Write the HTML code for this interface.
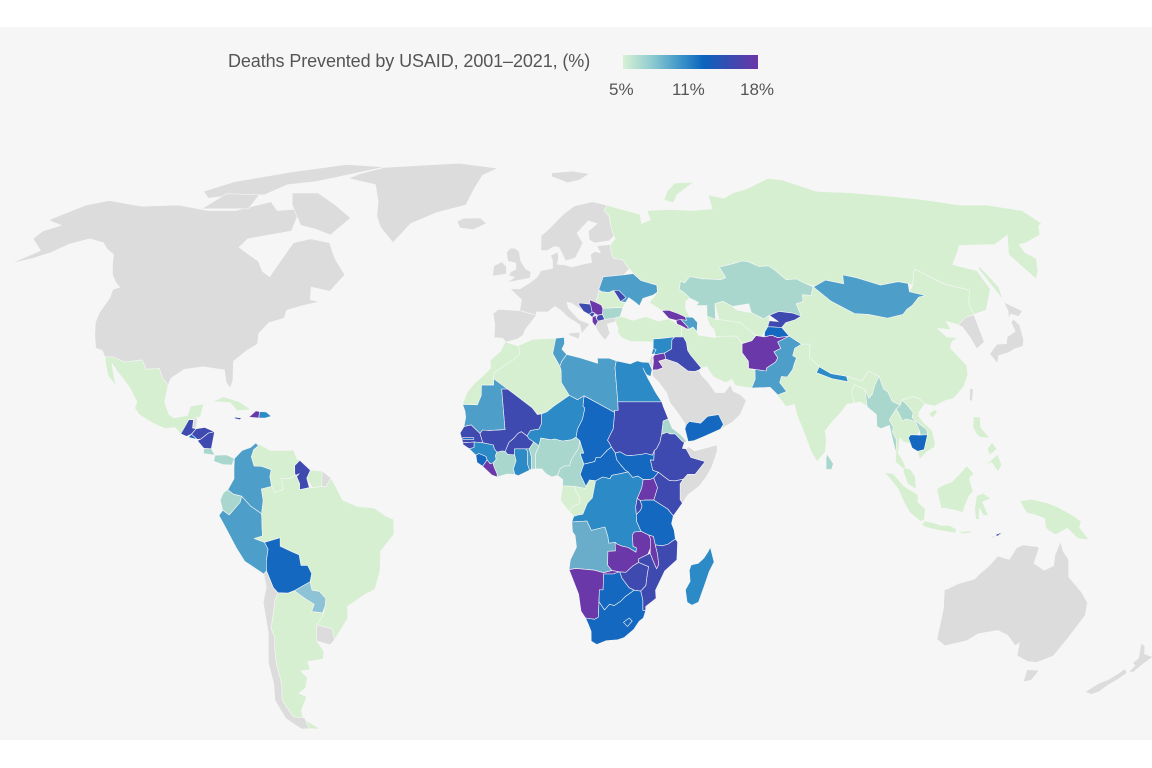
<!DOCTYPE html>
<html><head><meta charset="utf-8"><style>
html,body{margin:0;padding:0;background:#fff;}
#wrap{position:relative;width:1152px;height:768px;overflow:hidden;background:#fff;}
#bg{position:absolute;left:0;top:27px;width:1152px;height:713px;background:#f6f6f6;}
#title{position:absolute;left:228px;top:51px;font:18px "Liberation Sans",sans-serif;color:#555;letter-spacing:-0.1px;}
#bar{position:absolute;left:623px;top:55px;width:135px;height:14px;background:linear-gradient(to right,#d8f1d4 0%,#8ccad0 22%,#3f96c8 42%,#0b63bd 60%,#3b4ab0 80%,#6b36a8 100%);}
.lb{position:absolute;top:80px;font:17px "Liberation Sans",sans-serif;color:#555;}
svg{position:absolute;left:0;top:0;}
</style></head><body><div id="wrap"><div id="bg"></div>
<div id="title">Deaths Prevented by USAID, 2001–2021, (%)</div>
<div id="bar"></div>
<div class="lb" style="left:609px">5%</div><div class="lb" style="left:672px">11%</div><div class="lb" style="left:740px">18%</div>
<svg id="map" width="1152" height="768" viewBox="0 0 1152 768"></svg>
</div>
<script>
var YT=[0,.062,.124,.186,.248,.31,.372,.434,.4958,.5571,.6176,.6769,.7346,.7903,.8435,.8936,.9394,.9761,1];
var XT=[1,.9986,.9954,.99,.9822,.973,.96,.9427,.9216,.8962,.8679,.835,.7986,.7597,.7186,.6732,.6213,.5722,.5322];
function it(t,a){a=Math.min(Math.abs(a),89.999);var i=Math.floor(a/5),f=a/5-i;return t[i]+(t[i+1]-t[i])*f;}
function P(lo,la){var X=it(XT,la),Y=it(YT,la);return [(525.5+lo*3.775*X).toFixed(1),(495.8-(la<0?-1:1)*344.6*Y).toFixed(1)];}
var G='#dcdcdc',L='#d6efd0',T='#a9d7cd',T2='#8ec3d6',M2='#6aadcb',M='#4d9fc9',B2='#2c8ac6',B='#1568c0',I='#3f4ab1',P2='#6a38a8';
var D=[
[G,[-168,66,-162,70,-156,71.3,-141,69.7,-128,70,-115,68.5,-105,68.5,-95,71,-90,68.5,-82,69,-80,63,-93,61,-94,58.8,-85,55.3,-82,52.8,-79,51.5,-78,55,-77,60,-72,61,-65,60,-61,56,-56,52,-59,48,-65,49,-64,46,-61,45.5,-66,44.5,-70,43.5,-70,41.6,-74,40.5,-76,38,-75.5,35.5,-78,34,-81,31.5,-80.1,27,-80.4,25.2,-81.8,26.5,-83,29.5,-85,29.7,-89,30.2,-94,29.6,-97.2,27.5,-97.5,25.9,-99.5,27.5,-101,29.8,-104.5,29.6,-106.5,31.8,-111,31.3,-114.8,32.5,-117.1,32.5,-118.5,34,-120.6,34.6,-122.4,37.5,-124,40.5,-124.5,43,-124,46.5,-124.7,48.4,-123,49,-125,50,-128,52,-130.5,54.5,-133,57,-137,58.5,-140,60,-146,61,-151,59.5,-154,57.5,-158,56,-163,54.8,-158,58,-162,59.8,-165,61,-165,63,-161,64.5,-166,65.5]],
[G,[-80,73.5,-70,70,-62,66.5,-66,62,-72,63.5,-78,64.5,-86,70,-90,73.5]],
[G,[-120,72,-110,73,-100,73,-95,76,-85,77,-75,79,-62,82,-80,83,-100,80,-118,77,-125,74]],
[G,[-118,69,-101,69,-102,73,-115,73.3]],
[G,[-73,78,-60,76,-55,71,-53,67,-50,64,-44,60,-40,65,-32,68,-22,70,-20,75,-18,79,-12,81.5,-30,83.5,-50,82.5,-62,81.8,-70,79.5]],
[G,[-24,65.5,-22,66.4,-16,66.5,-13.6,65,-18,63.4,-22.5,63.8]],
[G,[11,78.5,17,76.6,22,77.5,27,79.5,20,80.4,11,79.7]],
[L,[-117.1,32.5,-114.8,32.5,-111,31.3,-106.5,31.8,-104.5,29.6,-101,29.8,-99.5,27.5,-97.5,25.9,-97.7,22,-96,19,-94.5,18.2,-91,18.8,-90.5,21,-87,21.5,-87.5,18.5,-89,17.8,-90.5,17.8,-91.4,16,-92.2,14.5,-94,16,-96.5,15.7,-100,17,-104,19,-105.5,20.5,-105.2,22,-108,25.5,-112.2,29,-114.5,31,-113,28,-111.5,25.5,-109.5,23,-110.3,24.2,-112,26,-114.5,28,-116,30.5]],
[I,[-92.2,14.5,-91.4,16,-90.5,17.8,-89.2,17.8,-89.2,15.9,-88.2,15.7,-89.4,14.4,-90.6,13.9]],
[G,[-89.2,17.8,-88.3,18.5,-88.2,16,-89.2,15.9]],
[I,[-88.2,15.7,-86,16,-83.2,15,-84.8,14.7,-86.7,13.3,-87.7,13.2,-89.3,14.4]],
[B,[-89.3,14.4,-87.7,13.2,-90.1,13.7]],
[I,[-83.2,15,-83.7,11,-85.7,11.1,-87.6,12.9,-86.7,13.3,-84.8,14.7]],
[T,[-85.7,11.1,-83.7,11,-82.6,9.5,-85.7,9.9]],
[T,[-82.6,9.5,-79.5,9.6,-77.4,8.7,-78,7.2,-80.4,7.3,-82.9,8.1]],
[L,[-85,21.9,-82,23.2,-77.5,22,-74.1,20.2,-77.7,19.9,-80,21.8,-83,22]],
[P2,[-74.4,18.4,-72.7,19.9,-71.7,19.7,-71.7,18.2]],
[B2,[-71.7,19.7,-69.9,19.6,-68.4,18.6,-70,18.2,-71.7,18.2]],
[I,[-78.3,18.4,-76.3,18.2,-76.8,17.8,-78.2,18.1]],
[M,[-77.4,8.7,-75.5,10.6,-73.3,11.3,-71.9,12.4,-71.2,11.7,-72.4,10.8,-72.9,9.1,-72.1,7,-70,6.9,-67.5,6.1,-67.8,4.5,-67.3,2.2,-70,1.6,-69.5,-1.1,-70,-4.2,-72.9,-2.4,-75.2,-0.1,-77.4,0.4,-78.9,1.4,-77.3,4,-77.4,6.7]],
[L,[-71.9,12.4,-69.7,11.5,-68,10.6,-64,10.6,-61.8,10.7,-60.7,8.6,-60,8.3,-61.3,7.1,-61.2,5.2,-60.7,4.5,-62.8,4,-64.7,4.1,-64.2,1.5,-66.3,0.7,-67.3,2.2,-67.8,4.5,-67.5,6.1,-70,6.9,-72.1,7,-72.9,9.1,-72.4,10.8,-71.2,11.7]],
[I,[-60,8.3,-57.1,6,-58,4.1,-57.3,1.9,-59.9,1.4,-59.9,2.8,-60.7,4.5,-61.2,5.2,-61.3,7.1]],
[L,[-57.1,6,-54,5.8,-54,2.2,-56.5,1.9,-58,4.1]],
[G,[-54,5.8,-51.6,4.2,-52.9,2.1,-54,2.2]],
[T,[-78.9,1.4,-77.4,0.4,-75.2,-0.1,-75.6,-1.5,-78.6,-4.5,-80.3,-3.4,-80.9,-1,-80,0.8]],
[M,[-80.3,-3.4,-78.6,-4.5,-75.6,-1.5,-75.2,-0.1,-72.9,-2.4,-70,-4.2,-70,-9.4,-72.2,-10,-69.5,-10.9,-68.7,-12.5,-69.4,-15.3,-69.6,-17.6,-70.4,-18.3,-75.2,-15.3,-77.2,-12.1,-79.8,-7.2,-81.3,-4.6]],
[L,[-60,5.2,-60.7,4.5,-59.9,2.8,-59.9,1.4,-57.3,1.9,-56.5,1.9,-54,2.2,-52.9,2.1,-51.6,4.2,-50,1.7,-48.5,-1,-44.5,-2.5,-40,-2.9,-37,-4.8,-35,-5.5,-35,-9,-38.7,-13,-39.1,-17.7,-40.8,-21.9,-43.4,-23,-48.6,-25.9,-48.8,-28.6,-53.4,-33.7,-53.6,-31.2,-57.6,-30.2,-55.6,-28,-54.6,-25.6,-54.3,-24,-55.8,-22.4,-57.8,-22.1,-58.1,-20.1,-57.5,-18.2,-58.4,-16.3,-60.2,-16.3,-60.5,-13.8,-62.1,-13.2,-65.4,-11.8,-65.3,-9.8,-69.5,-10.9,-72.2,-10,-70,-9.4,-70,-4.2,-69.5,-1.1,-70,1.6,-67.3,2.2,-66.3,0.7,-64.2,1.5,-64.7,4.1,-62.8,4]],
[B,[-69.5,-10.9,-65.3,-9.8,-65.4,-11.8,-62.1,-13.2,-60.5,-13.8,-60.2,-16.3,-58.4,-16.3,-57.5,-18.2,-58.1,-20.1,-62.6,-22.2,-64.4,-22.8,-67.1,-22.7,-68.2,-21.5,-69.6,-17.6,-69.4,-15.3,-68.7,-12.5]],
[T2,[-58.1,-20.1,-57.8,-22.1,-55.8,-22.4,-54.3,-24,-54.6,-25.6,-55.6,-27.4,-58.6,-27.1,-57.6,-25.4,-60,-24,-62.6,-22.2]],
[G,[-57.6,-30.2,-53.6,-31.2,-53.4,-33.7,-54.9,-34.9,-58.4,-34,-58.1,-32]],
[L,[-67.1,-22.7,-64.4,-22.8,-62.6,-22.2,-60,-24,-57.6,-25.4,-58.6,-27.1,-55.6,-27.4,-55.6,-28,-57.6,-30.2,-58.1,-32,-58.4,-34,-57,-36.5,-57.7,-38.2,-62.3,-38.8,-62.1,-40.7,-65,-41,-63.6,-42.6,-65,-45,-67.5,-46.3,-65.6,-47.2,-68.6,-50.4,-69,-52,-68.3,-53,-65.1,-55,-68.6,-54.9,-68.6,-52.3,-71.9,-52,-72.4,-50.5,-73.3,-48,-71.7,-44,-71.4,-39.4,-70.8,-36,-70,-33,-70.5,-31,-69.1,-27.5,-68.2,-24.5]],
[G,[-70.4,-18.3,-69.6,-17.6,-68.2,-21.5,-67.1,-22.7,-68.2,-24.5,-69.1,-27.5,-70.5,-31,-70,-33,-70.8,-36,-71.4,-39.4,-71.7,-44,-73.3,-48,-72.4,-50.5,-71.9,-52,-68.6,-52.3,-68.6,-54.9,-71,-55,-74.5,-52.5,-75.5,-48,-74,-44,-73.6,-39,-71.5,-32,-71.4,-25,-70.1,-21.4]],
[G,[-9,43,-8,43.7,-1.7,43.4,3.2,42.3,0,39,-0.7,37.6,-2.2,36.7,-5.6,36,-6.5,36.9,-8.9,37,-8.8,40,-9.5,42.8]],
[G,[-1.7,43.4,-1.2,46,-4.6,48.6,-1.6,48.6,1.4,50.1,3.5,51.4,4.8,53,8.5,53.6,8.6,55.5,8.1,56.8,10.5,57.7,10.6,56,10,54.6,12.5,54.4,14.5,53.9,18.6,54.7,21,55,21,57,22.5,57.8,24.3,57.4,23.5,59.2,28,59.5,27.8,57.5,28.2,56.1,31,55.7,32.5,53.5,30.5,52,24,51.5,23.5,50.5,22.1,48.4,22.9,47.9,24.9,47.7,26.6,48.2,28.2,45.5,29.6,45.3,28.6,44,27.5,42,26.3,41.7,26.1,40.8,23.5,40.2,24,38,22.5,36.4,21.1,37.9,19.5,40.5,19.4,41.8,16.5,43.5,13.7,45.1,12.3,45.4,12.6,44,15.6,41.2,18.5,40.2,16,38,15.6,40,12.2,41.9,10.3,43.5,8.7,44.4,6.5,43.1,3.2,43.1,3.2,42.3]],
[G,[5,58,5.3,61.8,8,63.5,13.5,67.5,18,69.8,25,71,30,70,28.5,68.5,29.8,67,29.5,63.5,31.5,62.9,28,60.5,23,59.9,21.3,60.7,21.5,63,25,65,22,65.7,17.5,62.5,19,60,17.5,58,16,56.2,12.8,55.4,11,58.8,9.5,59,7,58]],
[G,[-5.7,50.1,1.4,51.2,1.7,52.7,0,53.5,-1.6,55.5,-2,57.7,-3.5,58.6,-5,58.6,-6.2,57.5,-5.6,55.3,-3.1,54.9,-3,53.4,-4.6,52.7,-5.2,51.8,-3.4,51.4]],
[G,[-6,52.2,-6,54,-7.5,55.2,-10,54.2,-10.2,51.7]],
[G,[12.4,38.1,15.6,38.3,15.1,36.7,12.4,37.6]],
[M,[22.1,48.4,24,51.5,30.5,52,33.5,52.3,35.4,50.6,38.2,49.9,40,49.5,39.7,47.8,38.2,47.1,35,46.3,33.6,44.5,32.5,45.4,30.8,46.5,29.6,45.3,28.2,45.5,26.6,48.2,24.9,47.7,22.9,47.9]],
[L,[22.9,47.9,24.9,47.7,26.6,48.2,28.2,45.5,29.6,45.3,28.6,44,27,44.1,22.7,43.9,22.4,44.7,21,45.3,21.2,46.2,22.1,48]],
[I,[26.6,48.2,28.2,48.2,30,46.5,28.2,45.5]],
[T,[22.7,43.9,27,44.1,28.6,44,27.5,42,26.3,41.7,22.9,41.3,22.4,42.5]],
[P2,[19,46,21,45.3,22.4,44.7,22.7,43.9,22.4,42.5,21,42.3,19.5,43,19.2,44.5]],
[I,[15.8,45.2,19.2,44.9,19.5,43,18.5,42.5,17,43.2,15.8,44.7]],
[I,[21,42.3,22.4,42.5,22.9,41.3,21,40.9,20.5,41.5]],
[P2,[19.4,41.8,20.5,42.3,20.5,41.5,21,40.9,20,39.7,19.3,40.7]],
[I,[18.5,42.5,19.5,43,20.3,42.8,19.4,41.8]],
[L,[28,59.5,30,61,29.5,63.5,29.8,67,28.5,68.5,30,70,33,69.3,41,67.5,40.5,65,44,66,44,68.5,53,68.8,60,68.5,68,69,70,73,72,72.5,75,72,80,73.5,87,74.8,100,78,105,77.5,113,74,126,73.5,140,72.5,150,71.5,160,70,170,70,180,68.5,180,65,178,64.5,174,62,166,60,163,59.5,162,57.5,163.5,56,160,53,157,51,156,57,163,62,155,59.5,143,59.3,140,57.5,135,54.5,141,53,140.5,48.5,135,43.5,131,42.6,130.6,42.4,131,45,134,48.3,127.5,49.8,122,53.4,120.7,52.5,117.8,49.5,116.7,49.9,114,50.3,108,49.5,102,51.3,98.3,52,97,49.8,92,50.7,87.8,49.2,85,50,83.3,51,80,50.8,77.8,53.3,76.5,54.2,73.5,54,70.8,55.2,69,55.4,65,54.6,61,53.9,61.7,51.3,59.9,50.8,56,51,54.5,51,50.8,51.6,48.6,50,47.5,50.5,46.5,48.5,47.7,47.7,49,46.4,47.5,45.6,47,43.9,47.7,41.8,46.4,41.9,44.5,42.7,42,43.5,39.9,43.4,38.2,44.4,36.7,45.3,39.7,47.8,40,49.5,38.2,49.9,35.4,50.6,33.5,52.3,32.5,53.5,31,55.7,28.2,56.1,27.8,57.5]],
[L,[52,71.5,55,70.7,58,73,68,76.8,60,76.5,55,74]],
[L,[142,46,143.5,49,143,54,142,53.5]],
[P2,[39.9,43.4,41.6,41.5,43.5,41.1,46.6,41.1,46.4,41.9,44.5,42.7,42,43.5]],
[P2,[43.5,41.1,45,41.3,46.6,39.5,46.5,38.9,44.8,39.7,43.6,40.2]],
[M,[45,41.3,46.6,41.1,46.4,41.9,48.6,41.8,49.6,40.6,48.9,38.4,48,39.5,46.5,38.9,46.6,39.5]],
[L,[26,40.6,26.3,41.7,28,42,31,41.1,35,42,38.3,40.9,41.6,41.5,43.6,40.2,44.8,39.7,44.3,37,42.3,37.2,38,36.8,36.2,36.7,36,36,32.5,36.1,29.7,36.1,27.3,37,26.3,38.2,26.5,39.4]],
[T,[46.5,48.5,47.5,50.5,48.6,50,50.8,51.6,54.5,51,56,51,59.9,50.8,61.7,51.3,61,53.9,65,54.6,69,55.4,70.8,55.2,73.5,54,76.5,54.2,77.8,53.3,80,50.8,83.3,51,85,50,87.3,49.1,85.5,47,83,47.2,82.3,45.5,80,45,80.2,42.1,78,42.8,74.2,43.2,71,42.3,69,41.4,66,42.9,66,45,61,44.4,58.5,45.6,56,45,55,41.3,53,42,52.7,41.8,53.5,44.6,50.3,44.6,51.3,45.3,49,46.4,47.7,47.7]],
[L,[56,45,58.5,45.6,61,44.4,62,43.5,66,42.9,69,41.4,71,42.3,70.5,41,73,40.8,71,40.2,68.2,38.3,67,37.3,65.5,37.5,62,40.5,56,41.3]],
[L,[52.7,41.8,53,42,55,41.3,56,41.3,62,40.5,65.5,37.5,64,36.3,61,35.6,60,37.4,54,37.3,53.9,38.9,52.9,40]],
[I,[71,42.3,74.2,43.2,78,42.8,80.2,42.1,78,41.2,75,40.5,73.5,39.4,69.5,39.6,70.5,41,73,40.8]],
[B,[67.8,37.2,68.2,38.3,69.5,39.6,73.5,39.4,74.9,37.4,71.5,37,70,37.6]],
[P2,[61,35.6,64,36.3,65.5,37.5,67,37.3,67.8,37.2,70,37.6,71.5,37,74.9,37.4,71.2,36,71.6,34.5,69.5,33.7,70.2,32.3,69.3,31.3,66.5,29.9,66.3,29.2,61.5,29.8,61.8,31.5,60.5,33.5]],
[M,[74.9,37.4,77.8,35.5,75.5,34.5,74.5,32.8,75.4,32.3,74.5,31,73.6,29.5,71.8,27.8,70.2,27.9,69.5,26.5,71,24.4,68.5,23.6,66.7,25.4,61.6,25.2,62.9,27.3,63.2,29.4,61.5,29.8,66.3,29.2,66.5,29.9,69.3,31.3,70.2,32.3,69.5,33.7,71.6,34.5,71.2,36]],
[L,[44.3,37,44.8,39.7,46.5,38.9,48,39.5,48.9,38.4,49.2,37.6,53.9,37,54,37.3,60,37.4,61,35.6,60.5,33.5,61.8,31.5,61.5,29.8,63.2,29.4,62.9,27.3,61.6,25.2,57.3,25.8,56.5,27.2,54.7,26.5,51.5,27.9,50,30.2,48.5,29.9,47.6,31,46,33,45.4,34,45.4,35.9,44.8,37.2]],
[I,[44.8,37.2,45.4,35.9,45.4,34,46,33,47.6,31,48.5,29.9,47.7,29.4,46.6,29.1,44.7,29.2,42,31.1,39,32,38.8,33.4,41,34.4,41.4,36.5,42.3,37.2]],
[B2,[36.2,36.7,38,36.8,42.3,37.2,41.4,36.5,41,34.4,38.8,33.4,36,33,35.8,34.5]],
[P2,[35.5,32.5,36,33,38.8,33.4,39,32,37,31.5,38,30,36.5,29.5,35,29.4,35.5,31.5]],
[B2,[35.1,33,35.8,34.5,36.6,34.2,35.9,33.3]],
[G,[34.3,31.3,35.1,33,35.5,32.5,35,29.4]],
[G,[35,29.4,36.5,29.5,38,30,37,31.5,39,32,42,31.1,44.7,29.2,46.6,29.1,47.7,29.4,48.5,28,50,26.5,51.6,24.2,54,24.1,56,26,56.4,24.5,58.5,23.6,59.8,22.3,57.8,19,55.5,17.2,52.2,15.6,48,14,45,12.9,43.4,12.7,42.7,15.7,42.8,16.9,41,19.5,39,21.9,38.4,24,36.5,26.5,34.8,28.1]],
[B,[43.4,12.7,45,12.9,48,14,52.2,15.6,53.1,16.7,52,19,49,18.6,47,17,44,17.4,43.2,16.7,42.7,15.7]],
[L,[77.8,35.5,80.2,35.5,79,32.5,81.1,30.2,80,28.8,84,27.4,88.2,26.7,88.1,28,92,26.9,94.5,29.2,97,28,95.4,26,94.2,23.8,93.1,22.8,92.4,24.9,89.7,26,88.7,24.4,88.9,21.7,86.9,21.4,85,19.5,82,17,80.2,15.2,80.3,13,79.8,10.3,77.5,8,76.1,10.2,74.6,14.6,73,19.2,72.8,21.4,70.4,20.9,68.2,23.7,68.5,23.6,71,24.4,69.5,26.5,70.2,27.9,71.8,27.8,73.6,29.5,74.5,31,75.4,32.3,74.5,32.8,75.5,34.5]],
[L,[88.7,24.4,89.7,26,92.4,24.9,92.3,21,90.5,22,88.9,21.7]],
[B2,[80,28.8,81.1,30.2,84,28.6,88.1,28,88.2,26.7,84,27.4]],
[T,[79.8,6.2,79.9,8.5,80.2,9.8,81.8,7.5,81.2,6.1]],
[L,[73.5,39.4,75,40.5,78,41.2,80.2,42.1,80,45,82.3,45.5,83,47.2,85.5,47,87.3,49.1,90.7,45.6,96,42.7,100,42.5,105,41.6,110,42.5,111.9,43.7,114,44.6,117.4,46.6,119.7,47,115.6,47.9,117.8,49.5,120.7,52.5,122,53.4,127.5,49.8,134,48.3,131,45,130.6,42.4,128,41.9,124.4,40,121.5,40.9,121.6,38.9,118,39.2,119.5,37.2,122.5,37,120.3,36,119.2,34.6,121,32,122,30.5,121.5,28.3,119.5,25.5,116,22.8,113.5,22.2,110.5,21,108,21.5,106.7,22.8,105,23.2,102,22.4,101.3,21.2,99.3,22.1,98.5,24.3,97.5,25,97,28,94.5,29.2,92,26.9,88.1,28,84,28.6,81.1,30.2,79,32.5,80.2,35.5,77.8,35.5,74.9,37.4]],
[L,[108.6,19.2,110.5,20.2,111,19.6,109.5,18.2]],
[G,[120.3,22.5,121,25.2,121.9,24.9,120.9,22]],
[M,[87.8,49.2,92,50.7,97,49.8,98.3,52,102,51.3,108,49.5,114,50.3,116.7,49.9,115.6,47.9,119.7,47,117.4,46.6,114,44.6,111.9,43.7,110,42.5,105,41.6,100,42.5,96,42.7,90.7,45.6,87.3,49.1]],
[G,[124.4,40,128,41.9,130.6,42.4,129.5,36,126.5,34.4,126.2,36.8,125.3,39.5]],
[G,[129.6,33.2,130.7,31,131.9,32.8,135,33.5,136.9,34.3,139.8,35,140.9,36.5,141.5,38.3,142,40,141.3,41.4,140,40.5,139.8,38.5,136.7,37.2,135.5,35.6,132.8,35.5,130.9,34.2]],
[G,[140,41.5,141.5,42.6,143.3,42,145.5,43.3,141.8,45.4,141.3,43.3]],
[T,[92.3,21,92.4,24.9,93.1,22.8,94.2,23.8,95.4,26,97,28,97.5,25,98.5,24.3,99.3,22.1,101.3,21.2,100,20.3,97.8,17.8,98.6,16,98.2,15,99.1,13,98.6,10,98.2,12,97.6,16.5,95.3,15.7,94.2,16.2,94.5,19,92.4,20.7]],
[L,[97.8,17.8,100,20.3,100.5,19.5,101.3,17.5,102.3,18,104.7,17.4,105.5,15,102.6,12.2,100.9,12.6,100,13.5,99.2,10,100.3,8.3,101,6.5,100,6.5,98.3,8,98.6,10,99.1,13,98.2,15,98.6,16]],
[T,[101.3,21.2,102,22.4,103,21.5,104.5,19.5,104,18.3,105.5,17,107.5,15.5,107.5,14.3,105.5,14,105.5,15,104.7,17.4,102.3,18,101.3,17.5,100.5,19.5,100,20.3]],
[B,[102.3,13.6,103,14.3,105.5,14.2,107.5,14.3,106.2,10.8,104.4,10.4,103,11.2]],
[L,[102,22.4,105,23.2,106.7,22.8,108,21.5,106,19.5,105.8,18.7,107,17,108.8,15.4,109.3,12.5,109,11.4,106.8,10.3,104.8,8.6,104.4,10.4,106.2,10.8,107.5,14.3,107.5,15.5,105.5,17,104,18.3,104.5,19.5,103,21.5]],
[L,[100.3,6.4,101,6.5,102.2,6.2,103.4,4.5,103.5,1.5,101.3,2.8,100.3,5.5]],
[L,[109,1.5,109.6,2,111.5,2.8,113,3.2,115.5,5.4,117.2,7,119,5.2,117.7,4.1,118.6,1,117.5,0,116.5,-2.3,116,-3.9,114.5,-3.5,111.8,-3,110.2,-2.9,109.5,-0.5]],
[L,[95.3,5.5,97.5,5.2,100.4,2.2,104,0.2,104,-1.5,106,-3.1,105.8,-5.8,104.7,-5.9,102,-4,100.3,-1.5,98.7,1.7]],
[L,[105.2,-6.8,106,-5.9,108.5,-6.4,110.5,-6.9,112.6,-6.9,114.5,-7.8,114.4,-8.7,110,-8.1,106.5,-7.4]],
[L,[115,-8.2,116,-8.4,118,-8.2,119,-8.6,116,-8.9]],
[L,[119.5,-5.5,120.4,-5.5,120.3,-2.9,121.5,-4.6,122.7,-4.5,121.1,-1.4,123.3,-0.6,121,0.7,124.8,1.4,120.3,0.3,119.5,0,119.1,-3]],
[L,[124,-10.2,125,-9.5,124.2,-9.3]],
[I,[125,-9.1,127,-8.4,125.5,-9.5]],
[L,[131,-1.2,134,-0.8,138,-1.6,141,-2.6,145,-4.5,147.5,-6,147.2,-7.4,150,-10.3,147,-10,144,-7.6,141,-9.1,139,-8.1,138.3,-7.5,137.7,-5.3,135,-4.4,133,-4,132,-2.8]],
[L,[120.6,18.5,122.3,18.4,122,16,124,13.5,121.5,13.7,120.6,14.5,119.9,16.1]],
[L,[122,7,125.6,9.7,126.5,7.3,125.4,5.6,123.9,7.8]],
[L,[123,11,124.5,12.5,125.6,11,123.5,9.5]],
[G,[113.4,-22,114.2,-26.3,115,-33.6,117.9,-35.1,123.5,-33.9,126,-32.3,131,-31.5,134.3,-32.6,137.7,-35.1,138.5,-34.4,139.6,-37.4,143.5,-38.8,146.3,-39,150,-37.5,151.3,-33.8,153.6,-28,153,-25,150.6,-22.5,146.3,-19,145.3,-14.9,143.5,-12.9,142.5,-10.7,141.5,-13.7,141.6,-16.4,139.3,-17.4,136.2,-15.8,137,-12.3,136.5,-11.9,132.6,-11.5,131,-12.2,129.4,-14.9,126.2,-14.1,124.4,-16.3,122.2,-18.2,121,-19.5,116.7,-20.6,114.2,-21.8]],
[G,[144.7,-40.7,148.3,-40.9,148,-43.2,146,-43.6]],
[G,[172.6,-34.4,174.3,-35.3,175.5,-37,178.5,-37.7,177,-39.3,176,-41.3,174.6,-41.3,175,-39.7,173.8,-39.2,174.6,-38,173,-35.2]],
[G,[172.8,-40.5,174.3,-41.5,173.2,-43,171.5,-44.4,170.6,-45.9,169,-46.6,166.5,-46,168.3,-44,170.5,-43,172,-41.5]],
[L,[-5.6,36,-2.2,35.1,-1.8,34.5,-1.7,33,-3.6,31.7,-8.7,28.8,-8.7,27.7,-8.7,25.9,-12,25.9,-12,23.5,-13,21.3,-17,21.4,-16,24,-14,26.3,-11.5,28.2,-9.6,29.9,-9.8,31.7,-6.8,34,-5.9,35.8]],
[L,[-2.2,35.1,2,36.6,8.6,36.9,8.4,36.2,7.6,33.3,9.5,30.3,9.8,29.4,9.8,26.5,11.9,23.5,7.5,20.9,5.7,19.6,3.2,19,1.8,20.6,-4.9,25,-8.7,27.4,-8.7,28.8,-3.6,31.7,-1.7,33,-1.8,34.5]],
[M,[8.6,36.9,11,37.1,11,35.6,10.2,34.3,11.5,33.1,10,31.4,9.5,30.3,7.6,33.3,8.4,36.2]],
[M,[11.5,33.1,15.2,32.3,20,31,20,32.2,23.3,32.2,25.2,31.6,24.7,30,25,22,25,20,24,20,24,19.5,15.9,23.4,14.1,22.5,11.9,23.5,9.8,26.5,9.8,29.4,9.5,30.3,10,31.4]],
[B2,[25.2,31.6,29,30.9,31,31.6,32.3,31.3,34.2,31.2,34.9,29.5,34.3,27.9,33.2,28.4,32.4,29.9,33.6,27.4,35.5,24,36.9,22,25,22,24.7,30]],
[I,[25,22,36.9,22,37.2,21,38.4,18,37,17.5,36.4,14.4,35.9,12.6,34.9,11,34.3,10.6,33.8,9.5,32,9.9,30.8,9.7,28,9.4,26.7,9.5,25.1,10.3,23.9,10,22.9,11.4,22.4,12.3,21.9,13,22.5,14.1,23.5,15.7,24,19.5,24,20,25,20]],
[B,[23.9,10,25.1,10.3,26.7,9.5,28,9.4,30.8,9.7,32,9.9,33.8,9.5,34.3,10.6,34.1,8.3,33.2,8.4,33.8,6,35.3,5.5,34,4.2,33,3.8,31.2,3.8,29.8,4.6,28.4,4.3,27.2,5.6,26.5,6,25.3,7.2,24.2,8.5]],
[B,[15.9,23.4,24,19.5,23.5,15.7,22.5,14.1,21.9,13,22.4,12.3,22.9,11.4,21.7,10.6,20,9,18.8,9,18.4,8,15.5,7.4,14.5,9.9,15.5,10,14.9,11.6,14.5,12.9,13.5,13.7,13.9,15.6,15.3,17.9,16,20.5,15.5,21]],
[B2,[11.9,23.5,14.1,22.5,15.9,23.4,15.5,21,16,20.5,15.3,17.9,13.9,15.6,13.5,13.7,12.3,13.1,9.8,12.8,7.8,13.3,6.8,13.1,4.1,13.5,3.6,11.7,2.2,12.6,1,13.3,0.4,14,1.3,15.3,3.6,15.6,4.3,16.9,4.3,19.2,5.7,19.6,7.5,20.9]],
[I,[-4.9,25,1.8,20.6,3.2,19,4.3,19.2,4.3,16.9,3.6,15.6,1.3,15.3,0.4,14,-1.1,15,-2,14.6,-3.1,13.5,-4.4,12.5,-5.4,10.4,-7.6,10.2,-8.3,11,-8.6,11.9,-11.4,12.4,-12.2,14.6,-11.5,15.4,-9.7,15.3,-5.5,15.5,-6.5,25]],
[M,[-17,21.4,-13,21.3,-12,23.5,-12,25.9,-8.7,25.9,-8.7,27.4,-4.9,25,-6.5,25,-5.5,15.5,-9.7,15.3,-11.5,15.4,-12.2,14.6,-14.6,16.6,-16.5,16.2,-16.1,18.4,-16.3,19.8]],
[I,[-16.5,16.2,-14.6,16.6,-12.2,14.6,-11.4,12.4,-13.7,12.6,-16.7,12.4,-17.5,14.7]],
[B,[-16.8,13.6,-13.8,13.6,-13.8,13.2,-16.7,13.2]],
[I,[-16.7,12.4,-13.7,12.6,-13.7,11.3,-15,11,-16.7,12]],
[B2,[-13.7,12.6,-11.4,12.4,-8.6,11.9,-8.3,11,-7.6,10.2,-8,9.4,-7.8,8.5,-8.6,7.7,-9.4,7.5,-10.2,8.4,-10.5,9.2,-12.4,9.9,-13.2,9.5,-15,11,-13.7,11.3]],
[B,[-13.2,9.5,-12.4,9.9,-10.5,9.2,-10.2,8.4,-11.4,6.9,-12.9,7.8]],
[P2,[-11.4,6.9,-10.2,8.4,-9.4,7.5,-8.6,7.7,-8.4,6.9,-7.5,5.1,-7.5,4.4,-9,4.9]],
[T,[-7.5,4.4,-7.5,5.1,-8.4,6.9,-8.6,7.7,-7.8,8.5,-8,9.4,-7.6,10.2,-6.2,10.5,-5.4,10.4,-4.7,9.7,-2.9,9.6,-2.5,8.2,-3.2,6.3,-2.8,5,-5,5.1]],
[I,[-5.4,10.4,-4.4,12.5,-3.1,13.5,-2,14.6,-1.1,15,0.4,14,1,13.3,2.2,12.6,1,11,0,11,-2.9,11,-2.9,9.6,-4.7,9.7]],
[B2,[-2.9,11,0,11,0.5,10.5,0.5,7.5,1.1,6,-1.9,4.7,-2.8,5,-3.2,6.3,-2.5,8.2,-2.9,9.6]],
[M,[0,11,1,11,1.6,9,1.6,6.2,1.1,6,0.5,7.5,0.5,10.5]],
[T,[1,11,2.2,12.6,3.6,11.7,2.7,9.8,2.7,6.3,1.6,6.2,1.6,9]],
[T,[2.7,6.3,2.7,9.8,3.6,11.7,4.1,13.5,6.8,13.1,7.8,13.3,9.8,12.8,12.3,13.1,13.5,13.7,14.5,12.9,14.2,11.2,13.3,10,12.2,8.5,11.7,7,10.5,7,9.2,6.4,8.5,4.8,7,4.4,5.4,5.2,4.3,6.3]],
[T,[8.5,4.8,9.2,6.4,10.5,7,11.7,7,12.2,8.5,13.3,10,14.2,11.2,14.5,12.9,14.9,11.6,15.5,10,14.5,9.9,15.5,7.4,14.5,5,16,2.2,15.9,1.7,13,2.2,11.3,2.3,9.8,2.3,9.9,3.8]],
[B,[14.5,5,15.5,7.4,18.4,8,18.8,9,20,9,21.7,10.6,22.9,11.4,23.9,10,24.2,8.5,25.3,7.2,26.5,6,27.2,5.6,25.3,5.2,22.9,4.8,22.4,4,20.5,4.4,18.6,3.5,17,3.7,16,2.2]],
[L,[9.8,2.3,11.3,2.3,13,2.2,13.3,1.2,14.5,-0.5,14.2,-1.9,12.5,-2.4,11.7,-3.8,10.5,-2.5,9.3,-1.1,9.6,1.1]],
[L,[13,2.2,15.9,1.7,16,2.2,17,3.7,18.6,3.5,17.7,-0.5,16.4,-1.7,15.2,-4.3,14,-4.5,12.8,-4.8,11.7,-3.8,12.5,-2.4,14.2,-1.9,14.5,-0.5,13.3,1.2]],
[B2,[18.6,3.5,20.5,4.4,22.4,4,22.9,4.8,25.3,5.2,27.2,5.6,28.4,4.3,29.8,4.6,31.2,3.8,30.8,1.8,29.6,-0.6,29.2,-2.5,29.4,-4.4,29.5,-6,30.7,-8.3,28.9,-8.5,28.4,-9.2,28.7,-11.8,29.6,-12.2,29.5,-13.2,27.4,-12.1,25.8,-11.8,24.4,-11.3,23.9,-10.9,22.2,-11.1,21.9,-9.5,21.1,-7.3,17.5,-8.1,16.3,-5.9,12.3,-6.1,12.8,-4.8,14,-4.5,15.2,-4.3,16.4,-1.7,17.7,-0.5]],
[P2,[31.2,3.8,33,3.8,34,4.2,35,1.9,34,-1,31.8,-1,30.4,-1.1,29.6,-0.6,30.8,1.8]],
[I,[29.6,-0.6,30.4,-1.1,30.9,-2.4,30.5,-3.4,29.4,-4.4,29.2,-2.5]],
[I,[34,4.2,35.3,5.5,36.9,4.4,38.1,3.6,39.6,3.5,41.9,3.9,41,2.8,41,-0.9,41.6,-1.7,39.2,-4.7,37.7,-3.1,34,-1,35,1.9]],
[I,[33.8,6,33.2,8.4,34.1,8.3,34.3,10.6,34.9,11,35.9,12.6,36.4,14.4,37.9,14.9,38.5,14.5,40,14.5,41.7,12.9,42.4,12.5,41.8,11.1,42.8,11,44,9,47.8,8,45,5,43,5,41.9,3.9,39.6,3.5,38.1,3.6,36.9,4.4,35.3,5.5]],
[T,[36.4,14.4,37,17.5,38.4,18,39.3,15.8,41.2,14.5,43.1,12.7,42.4,12.5,41.7,12.9,40,14.5,38.5,14.5,37.9,14.9]],
[G,[41.9,3.9,43,5,45,5,47.8,8,44,9,42.8,11,43.5,11.5,45,10.5,48.9,11.4,51.1,11.9,51,10.4,49.5,6.8,48,4.5,46,2.2,43.1,0.3,41.6,-1.7,41,-0.9,41,2.8]],
[B,[30.4,-1.1,31.8,-1,34,-1,37.7,-3.1,39.2,-4.7,38.8,-6.5,39.5,-8,39.9,-10.1,38,-11.3,36.5,-11.7,34.6,-11.5,34,-9.5,32.8,-9.2,30.7,-8.3,29.5,-6,29.4,-4.4,30.5,-3.4,30.9,-2.4]],
[M2,[12.3,-6.1,16.3,-5.9,17.5,-8.1,21.1,-7.3,21.9,-9.5,22.2,-11.1,23.9,-10.9,24,-12.9,22,-13,22,-16.2,23.2,-17.5,21,-18,18.5,-17.4,13.5,-17,11.7,-17.3,12,-15,13.6,-12,13.2,-9.3,12.5,-8.4]],
[P2,[23.9,-10.9,24.4,-11.3,25.8,-11.8,27.4,-12.1,29.5,-13.2,29.6,-12.2,28.7,-11.8,28.4,-9.2,28.9,-8.5,30.7,-8.3,32.8,-9.2,33.2,-10,33.3,-12.3,32.7,-13.7,30.2,-14.8,30.3,-15.6,28.8,-16.4,27,-17.9,25.3,-17.8,23.2,-17.5,22,-16.2,22,-13,24,-12.9]],
[P2,[32.8,-9.2,34,-9.5,34.6,-11.5,35.3,-13.7,35.7,-16.1,35.2,-17.1,34.3,-15.5,33.3,-13.5,33.3,-12.3,33.2,-10]],
[I,[34.6,-11.5,36.5,-11.7,38,-11.3,39.9,-10.1,40.5,-10.8,40.5,-15,37.4,-17.6,35.2,-22.1,35.5,-24,32.8,-25.9,32.9,-26.9,32.1,-26.8,31.9,-24.4,31.2,-22.3,32.5,-21,32.7,-18.8,33,-16.6,30.3,-15.6,30.2,-14.8,32.7,-13.7,33.3,-13.5,34.3,-15.5,35.2,-17.1,35.7,-16.1,35.3,-13.7]],
[I,[25.3,-17.8,27,-17.9,28.8,-16.4,30.3,-15.6,33,-16.6,32.7,-18.8,32.5,-21,31.2,-22.3,29.4,-22.1,28,-21.5,26,-19.3]],
[P2,[11.7,-17.3,13.5,-17,18.5,-17.4,21,-18,23.2,-17.5,25.3,-17.8,23.5,-18.3,21,-18.3,21,-22,20,-22,20,-28.4,19,-28.9,16.5,-28.6,15.2,-27,14.4,-23,13.4,-20.9]],
[B,[21,-18.3,23.5,-18.3,25.3,-17.8,26,-19.3,28,-21.5,29.4,-22.1,27.1,-23.6,25.9,-24.7,24.2,-25.7,22.9,-25.4,21.6,-26.7,20,-24.8,20,-22,21,-22]],
[B,[16.5,-28.6,19,-28.9,20,-28.4,20,-24.8,21.6,-26.7,22.9,-25.4,24.2,-25.7,25.9,-24.7,27.1,-23.6,29.4,-22.1,31.2,-22.3,31.9,-24.4,32.1,-26.8,32.9,-26.9,32.4,-28.6,31.3,-29.4,30,-31.3,27.5,-33.2,25.8,-33.7,22.6,-33.9,20,-34.8,18.4,-34,18.2,-31.7,17.3,-30]],
[B,[27,-29.6,28.5,-28.6,29.4,-29.3,28.2,-30.6]],
[B2,[49.3,-12,50.5,-15.5,49.4,-17.7,48.5,-20.5,47.1,-24.9,45.4,-25.6,44,-24.9,43.3,-22,44.4,-20,44,-17.4,44.4,-16.2,46.3,-15.8,47.7,-14.6,48.8,-13]]
];
var s='';
for(var k=0;k<D.length;k++){var c=D[k][0],a=D[k][1],p=[];for(var j=0;j<a.length;j+=2){var q=P(a[j],a[j+1]);p.push(q[0]+','+q[1]);}
s+='<polygon points="'+p.join(' ')+'" fill="'+c+'" stroke="#f6f6f6" stroke-width="0.6" stroke-linejoin="round"/>';}
document.getElementById('map').innerHTML=s;
</script>
</body></html>
